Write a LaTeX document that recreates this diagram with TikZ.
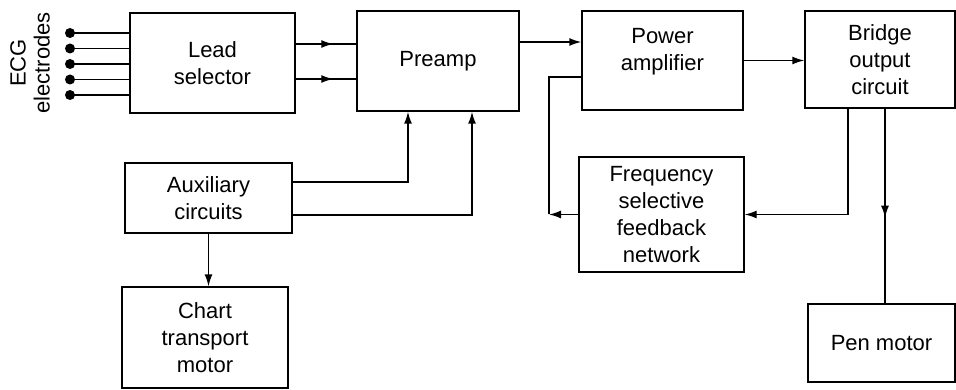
\documentclass[tikz,border=0pt]{standalone}
\usepackage{fontspec}
\setmainfont{Liberation Sans}
\usetikzlibrary{arrows.meta,decorations.markings}
\begin{document}
\begin{tikzpicture}[x=1pt,y=-1pt,line width=1.4pt,
  box/.style={draw,rectangle,inner sep=0pt,align=center,font=\fontsize{22}{27}\selectfont},
  arr/.style={-{Latex[length=12pt,width=8pt]}},
  midarr/.style={postaction={decorate},decoration={markings,mark=at position #1 with {\arrow{Latex[length=12pt,width=8pt]}}}},
  dotnode/.style={circle,fill,inner sep=0pt,minimum size=10pt}]
\useasboundingbox (0,0) rectangle (956,390);
\node[box,minimum width=165pt,minimum height=100pt] (lead) at (212.5,63) {Lead\\selector};
\node[box,minimum width=162pt,minimum height=100pt] (pre) at (438,61) {Preamp};
\node[box,minimum width=161pt,minimum height=99pt] (pa) at (662.5,60.5) {};
\node[font=\fontsize{22}{27}\selectfont,align=center] (patext) at (662.5,52) {Power\\amplifier};
\node[box,minimum width=150pt,minimum height=97pt] (br) at (880,59.5) {Bridge\\output\\circuit};
\node[box,minimum width=165pt,minimum height=115pt] (freq) at (661.5,214.5) {Frequency\\selective\\feedback\\network};
\node[box,minimum width=167pt,minimum height=70pt] (aux) at (208.5,198) {Auxiliary\\circuits};
\node[box,minimum width=166pt,minimum height=101pt] (chart) at (205,337.5) {Chart\\transport\\motor};
\node[box,minimum width=147pt,minimum height=78pt] (pen) at (881.5,343) {Pen motor};
\node[rotate=90,align=center,font=\fontsize{22}{24}\selectfont] (ecg) at (30,63) {ECG\\electrodes};
\foreach \i/\yy in {1/33,2/48.5,3/64,4/79.5,5/95}{
  \node[dotnode] (e\i) at (70,\yy) {};
  \draw (e\i.center) -- (e\i.center -| lead.west);
}
\draw[midarr=0.62] ([yshift=19pt]lead.east) -- ([yshift=19pt]lead.east -| pre.west);
\draw[midarr=0.62] ([yshift=-16pt]lead.east) -- ([yshift=-16pt]lead.east -| pre.west);
\draw[arr] ([yshift=19pt]pre.east) -- ([yshift=19pt]pre.east -| pa.west);
\draw[arr] (pa.east) -- (pa.east -| br.west);
\coordinate (fbc) at (549,214.5);
\draw[arr] (freq.west) -- (fbc);
\draw (fbc) |- ([yshift=-16.5pt]pa.west);
\draw[arr] ([xshift=-32pt]br.south) |- (freq.east);
\draw[midarr=0.56] ([xshift=5pt]br.south) -- ([xshift=5pt]br.south |- pen.north);
\draw[arr] ([yshift=16pt]aux.east) -| ([xshift=-30pt]pre.south);
\draw[arr] ([yshift=-17pt]aux.east) -| ([xshift=34pt]pre.south);
\draw[arr] (aux.south) -- (aux.south |- chart.north);
\end{tikzpicture}
\end{document}
